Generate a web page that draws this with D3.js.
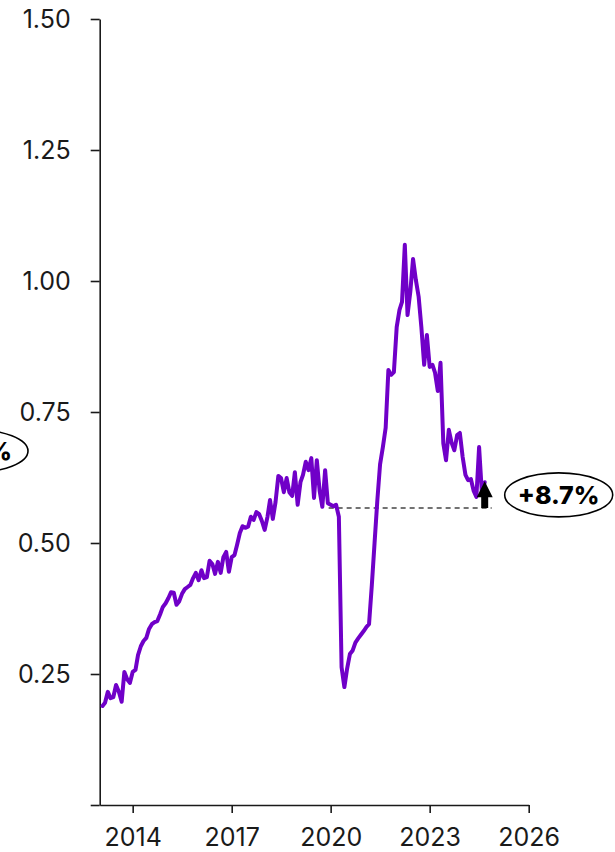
<!DOCTYPE html>
<html>
<head>
<meta charset="utf-8">
<script src="https://cdn.jsdelivr.net/npm/d3@7"></script>
<style>
  html, body { margin: 0; padding: 0; background: #ffffff; }
  svg { display: block; }
  text { font-family: Inter, "Open Sans", sans-serif; }
</style>
</head>
<body>
<svg id="chart" width="615" height="852"></svg>
<script>
// ---- data ----
const firstMonth = "2013-02";           // first observation (monthly series)
const values = [
  0.189,0.195,0.216,0.204,0.206,0.229,0.216,0.197,0.254,0.240,
  0.233,0.254,0.258,0.286,0.303,0.313,0.319,0.336,0.345,0.349,
  0.351,0.364,0.378,0.385,0.395,0.406,0.405,0.382,0.389,0.403,
  0.412,0.416,0.420,0.433,0.443,0.429,0.448,0.433,0.435,0.466,
  0.460,0.441,0.464,0.443,0.473,0.483,0.445,0.473,0.477,0.496,
  0.519,0.532,0.529,0.531,0.550,0.544,0.559,0.555,0.542,0.525,
  0.550,0.582,0.546,0.578,0.628,0.624,0.597,0.624,0.597,0.590,
  0.635,0.573,0.616,0.630,0.655,0.639,0.662,0.586,0.658,0.600,
  0.569,0.639,0.576,0.573,0.570,0.573,0.550,0.263,0.225,0.260,
  0.288,0.295,0.310,0.318,0.325,0.332,0.340,0.345,0.420,0.500,
  0.582,0.650,0.683,0.720,0.830,0.821,0.826,0.912,0.945,0.960,
  1.069,0.935,0.980,1.042,1.002,0.970,0.912,0.840,0.897,0.836,
  0.840,0.825,0.790,0.844,0.690,0.658,0.716,0.691,0.677,0.706,
  0.710,0.664,0.630,0.620,0.622,0.600,0.588,0.683,0.595,0.616
];
const yTicks = [0, 0.25, 0.5, 0.75, 1.0, 1.25, 1.5];
const xTickYears = [2014, 2017, 2020, 2023, 2026];
const xDomainYears = [2013, 2026];
const baselineMonth = "2020-01";
const baselineValue = 0.567;
const changeLabel = "+8.7%";
const leftLabel = "%";

// ---- build ----
const parseMonth = d3.timeParse("%Y-%m");
const start = parseMonth(firstMonth);
const data = values.map((v, i) => ({ date: d3.timeMonth.offset(start, i), value: v }));

const svg = d3.select("#chart");
const x = d3.scaleTime()
  .domain(xDomainYears.map(y => new Date(y, 0, 1)))
  .range([99.7, 528.7]);
const y = d3.scaleLinear().domain([0, 1.5]).range([805, 19]);

const axisColor = "#1a1a1a";

// y axis
const yAxis = svg.append("g")
  .attr("transform", "translate(99.7,0)")
  .call(d3.axisLeft(y).tickValues(yTicks).tickSize(9).tickSizeOuter(0)
    .tickPadding(20)
    .tickFormat(d => d === 0 ? "" : d3.format(".2f")(d)));
yAxis.selectAll("path, line").attr("stroke", axisColor).attr("stroke-width", 1.6);
yAxis.selectAll("text").attr("font-size", 25).attr("fill", "#1a1a1a")
  .style("font-family", "Inter, 'Open Sans', sans-serif");

// x axis
const xAxis = svg.append("g")
  .attr("transform", "translate(0,805)")
  .call(d3.axisBottom(x).tickValues(xTickYears.map(yr => new Date(yr, 0, 1)))
    .tickSize(8).tickSizeOuter(0).tickPadding(15)
    .tickFormat(d3.timeFormat("%Y")));
xAxis.selectAll("path, line").attr("stroke", axisColor).attr("stroke-width", 1.6);
xAxis.selectAll("text").attr("font-size", 25).attr("fill", "#1a1a1a")
  .style("font-family", "Inter, 'Open Sans', sans-serif");

// baseline dashed
const baseDate = parseMonth(baselineMonth);
const last = data[data.length - 1];
svg.append("line")
  .attr("x1", x(baseDate) - 2)
  .attr("x2", x(last.date) + 7)
  .attr("y1", y(baselineValue))
  .attr("y2", y(baselineValue))
  .attr("stroke", "#444")
  .attr("stroke-width", 1.5)
  .attr("stroke-dasharray", "5,4");

// series line
svg.append("path")
  .datum(data)
  .attr("fill", "none")
  .attr("stroke", "#7000c8")
  .attr("stroke-width", 4)
  .attr("stroke-linejoin", "round")
  .attr("stroke-linecap", "round")
  .attr("d", d3.line().x(d => x(d.date)).y(d => y(d.value)));

// arrow from baseline up to last value
const ax = x(last.date);
const yBase = y(baselineValue);
const yTop = y(last.value) - 1;
const headH = 16, headW = 8, shaftW = 3.5;
const p = d3.path();
p.moveTo(ax - shaftW, yBase);
p.lineTo(ax - shaftW, yTop + headH);
p.lineTo(ax - headW, yTop + headH);
p.lineTo(ax, yTop);
p.lineTo(ax + headW, yTop + headH);
p.lineTo(ax + shaftW, yTop + headH);
p.lineTo(ax + shaftW, yBase);
p.closePath();
svg.append("path").attr("fill", "#000").attr("d", p.toString());

// right annotation
const rx = ax + 74, ry = yBase - 13;
svg.append("ellipse")
  .attr("cx", rx).attr("cy", ry).attr("rx", 54).attr("ry", 22)
  .attr("fill", "#fff").attr("stroke", "#000").attr("stroke-width", 1.6);
svg.append("text")
  .attr("x", rx).attr("y", ry + 9)
  .attr("text-anchor", "middle")
  .attr("font-size", 25).attr("font-weight", 800).attr("fill", "#000")
  .text(changeLabel);

// left annotation (cut off at the page edge, as in the reference)
svg.append("ellipse")
  .attr("cx", -27).attr("cy", 451).attr("rx", 55).attr("ry", 21.5)
  .attr("fill", "none").attr("stroke", "#000").attr("stroke-width", 1.6);
svg.append("text")
  .attr("x", 12).attr("y", 460)
  .attr("text-anchor", "end")
  .attr("font-size", 25).attr("font-weight", 800).attr("fill", "#000")
  .text(leftLabel);
</script>
</body>
</html>
